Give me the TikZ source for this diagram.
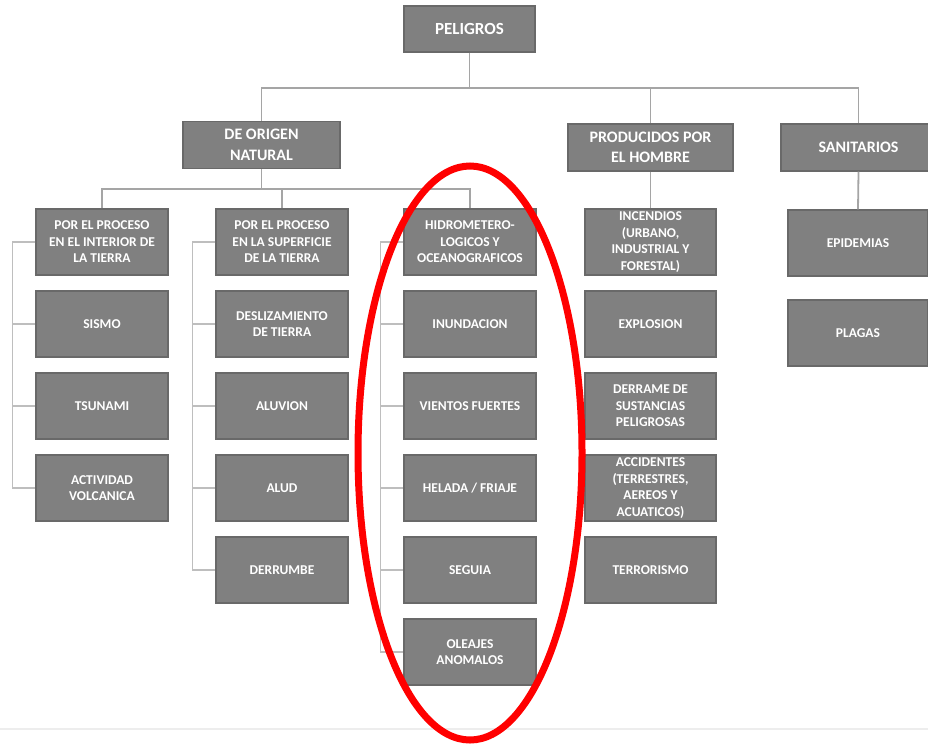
\documentclass[tikz,border=0pt]{standalone}
\usepackage{fontspec}
\setmainfont{Carlito}
\usepackage{tikz}
\usetikzlibrary{calc,positioning}
\definecolor{boxgray}{RGB}{128,128,128}
\definecolor{boxedge}{RGB}{105,105,105}
\definecolor{linkgray}{RGB}{165,165,165}
\definecolor{railgray}{RGB}{190,190,190}
\definecolor{marker}{RGB}{255,0,0}

\begin{document}
\begin{tikzpicture}[x=1pt, y=-1pt,
    box/.style={draw=boxedge, line width=1.2pt, fill=boxgray, text=white,
        align=center, inner sep=2pt, font=\bfseries},
    topbox/.style={box, minimum width=131pt, minimum height=46pt,
        font=\bfseries\fontsize{17}{20}\selectfont},
    groupbox/.style={box, minimum height=47pt,
        font=\bfseries\fontsize{16}{20.5}\selectfont},
    leafbox/.style={box, minimum width=132pt, minimum height=66pt,
        font=\bfseries\fontsize{13.5}{16.5}\selectfont},
    link/.style={draw=linkgray, line width=1.8pt},
    rail/.style={draw=railgray, line width=1.3pt}]
    \useasboundingbox (0,0) rectangle (928,745);
    \clip (0,0) rectangle (928,745);

    % Top level
    \node[topbox] (root) at (469.5,29) {PELIGROS};

    % Groups
    \node[groupbox, minimum width=157pt] (nat) at (261.5,145) {DE ORIGEN\\NATURAL};
    \node[groupbox, minimum width=165pt] (hom) at (650.5,147.5) {PRODUCIDOS POR\\EL HOMBRE};
    \node[groupbox, minimum width=155pt] (san) at (858.5,147.5) {SANITARIOS};

    % Natural: three sub-groups
    \node[leafbox] (int) at (102,242) {POR EL PROCESO\\EN EL INTERIOR DE\\LA TIERRA};
    \node[leafbox] (sup) at (282,242) {POR EL PROCESO\\EN LA SUPERFICIE\\DE LA TIERRA};
    \node[leafbox] (hid) at (470,242) {HIDROMETERO-\\LOGICOS Y\\OCEANOGRAFICOS};

    \node[leafbox] (sismo) at (102,324) {SISMO};
    \node[leafbox] (tsunami) at (102,406) {TSUNAMI};
    \node[leafbox] (volcan) at (102,488) {ACTIVIDAD\\VOLCANICA};

    \node[leafbox] (desliz) at (282,324) {DESLIZAMIENTO\\DE TIERRA};
    \node[leafbox] (aluvion) at (282,406) {ALUVION};
    \node[leafbox] (alud) at (282,488) {ALUD};
    \node[leafbox] (derrumbe) at (282,570) {DERRUMBE};

    \node[leafbox] (inund) at (470,324) {INUNDACION};
    \node[leafbox] (vientos) at (470,406) {VIENTOS FUERTES};
    \node[leafbox] (helada) at (470,488) {HELADA / FRIAJE};
    \node[leafbox] (seguia) at (470,570) {SEGUIA};
    \node[leafbox] (oleajes) at (470,652) {OLEAJES\\ANOMALOS};

    % Human made
    \node[leafbox, minimum width=131pt] (incend) at (650.5,242) {INCENDIOS\\(URBANO,\\INDUSTRIAL Y\\FORESTAL)};
    \node[leafbox, minimum width=131pt] (explos) at (650.5,324) {EXPLOSION};
    \node[leafbox, minimum width=131pt] (derrame) at (650.5,406) {DERRAME DE\\SUSTANCIAS\\PELIGROSAS};
    \node[leafbox, minimum width=131pt] (accid) at (650.5,488) {ACCIDENTES\\(TERRESTRES,\\AEREOS Y\\ACUATICOS)};
    \node[leafbox, minimum width=131pt] (terror) at (650.5,570) {TERRORISMO};

    % Sanitary
    \node[leafbox, minimum width=140pt] (epid) at (858,243) {EPIDEMIAS};
    \node[leafbox, minimum width=140pt] (plagas) at (858,333) {PLAGAS};

    % Connectors between levels
    \coordinate (bus) at (469.5,88);
    \coordinate (natbus) at (261.5,189);
    \draw[link] (root.south) -- (bus);
    \draw[link] (nat.north) |- (bus) -| (san.north);
    \draw[link] (bus) -| (hom.north);
    \draw[link] (nat.south) -- (natbus);
    \draw[link] (int.north) |- (natbus) -| (hid.north);
    \draw[link] (natbus) -| (sup.north);
    \draw[link] (hom.south) -- (incend.north);
    \draw[link] (san.south) -- (epid.north);

    % Side rails of each column
    \foreach \head/\last/\items in {int/volcan/{sismo,tsunami},
            sup/derrumbe/{desliz,aluvion,alud},
            hid/oleajes/{inund,vientos,helada,seguia}} {
        \coordinate (railtop) at ($(\head.west)+(-23,0)$);
        \draw[rail] (\head.west) -- (railtop) |- (\last.west);
        \foreach \item in \items
            \draw[rail] (railtop |- \item.west) -- (\item.west);
    }

    % Bottom rule
    \draw[draw=black!7, line width=2pt] (0,729) -- (928,729);

    % Highlight
    \draw[marker, line width=7pt] (470,453) ellipse [x radius=112, y radius=287];
\end{tikzpicture}
\end{document}
